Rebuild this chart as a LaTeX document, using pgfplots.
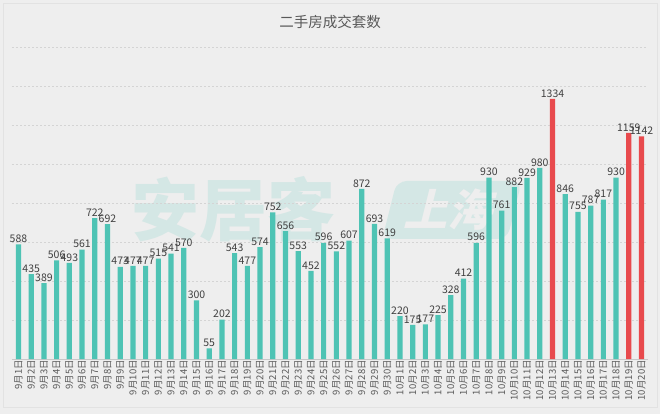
\documentclass[border=0pt]{standalone}
\usepackage{fontspec}
\setmainfont{Noto Sans CJK SC}
\usepackage{pgfplots}
\pgfplotsset{compat=1.18}
\definecolor{bgc}{HTML}{EEEEEE}
\definecolor{frm}{HTML}{E2E2E2}
\definecolor{grd}{HTML}{D4D4D4}
\definecolor{base}{HTML}{C8C8C8}
\definecolor{teal1}{HTML}{4EC3B4}
\definecolor{red1}{HTML}{E84A4D}
\definecolor{txt}{HTML}{404040}
\definecolor{lbl}{HTML}{595959}
\begin{document}
\begin{tikzpicture}
\fill[bgc] (-12pt,-55pt) rectangle (648pt,359pt);
\draw[frm, line width=0.8pt] (-9pt,-48pt) rectangle (645pt,356pt);
% watermark
\node[text=teal1!16!bgc, font=\fontsize{68}{70}\selectfont\bfseries] at (221pt,150pt) {安居客};
\node[fill=teal1!16!bgc, rounded corners=10pt, xslant=0.25, minimum width=125pt, minimum height=58pt] at (440pt,149pt) {};
\node[text=bgc, font=\fontsize{44}{46}\selectfont\bfseries, xslant=0.25] at (440pt,149pt) {上海};
\node[text=lbl, font=\fontsize{14.5}{16}\selectfont] at (318pt,337pt) {二手房成交套数};
\begin{axis}[
  at={(0pt,0pt)}, anchor=south west,
  scale only axis, width=636pt, height=312pt,
  xmin=-0.51, xmax=49.51, ymin=0, ymax=1600,
  axis line style={draw=none},
  major tick length=0pt,
  ytick={200,400,...,1600}, yticklabels={},
  ymajorgrids, grid style={color=grd, dash pattern=on 2pt off 2pt, line width=0.6pt},
  extra y ticks={0}, extra y tick labels={},
  extra y tick style={grid style={solid, color=base, line width=0.8pt}},
  xtick={0,...,49},
  xticklabels={9月1日,9月2日,9月3日,9月4日,9月5日,9月6日,9月7日,9月8日,9月9日,9月10日,9月11日,9月12日,9月13日,9月14日,9月15日,9月16日,9月17日,9月18日,9月19日,9月20日,9月21日,9月22日,9月23日,9月24日,9月25日,9月26日,9月27日,9月28日,9月29日,9月30日,10月1日,10月2日,10月3日,10月4日,10月5日,10月6日,10月7日,10月8日,10月9日,10月10日,10月11日,10月12日,10月13日,10月14日,10月15日,10月16日,10月17日,10月18日,10月19日,10月20日},
  x tick label style={rotate=90, anchor=east, font=\fontsize{9.5}{10}\selectfont, text=lbl, inner sep=1pt},
  tick label style={/pgf/number format/assume math mode=true},
  ybar, bar width=5.2pt, bar shift=0pt,
  nodes near coords,
  nodes near coords style={font=\fontsize{10.5}{11}\selectfont, text=txt, inner sep=1.5pt, /pgf/number format/assume math mode=true, /pgf/number format/1000 sep={}},
  clip=false,
]
\addplot[fill=teal1, draw=none] coordinates {
(0,588) (1,435) (2,389) (3,506) (4,493) (5,561) (6,722) (7,692) (8,473) (9,477)
(10,477) (11,515) (12,541) (13,570) (14,300) (15,55) (16,202) (17,543) (18,477) (19,574)
(20,752) (21,656) (22,553) (23,452) (24,596) (25,552) (26,607) (27,872) (28,693) (29,619)
(30,220) (31,175) (32,177) (33,225) (34,328) (35,412) (36,596) (37,930) (38,761) (39,882)
(40,929) (41,980) (43,846) (44,755) (45,787) (46,817) (47,930)
};
\addplot[fill=red1, draw=none] coordinates {
(42,1334) (48,1159) (49,1142)
};
\end{axis}
\pgfresetboundingbox
\path[use as bounding box] (-12pt,-55pt) rectangle (648pt,359pt);
\end{tikzpicture}
\end{document}
